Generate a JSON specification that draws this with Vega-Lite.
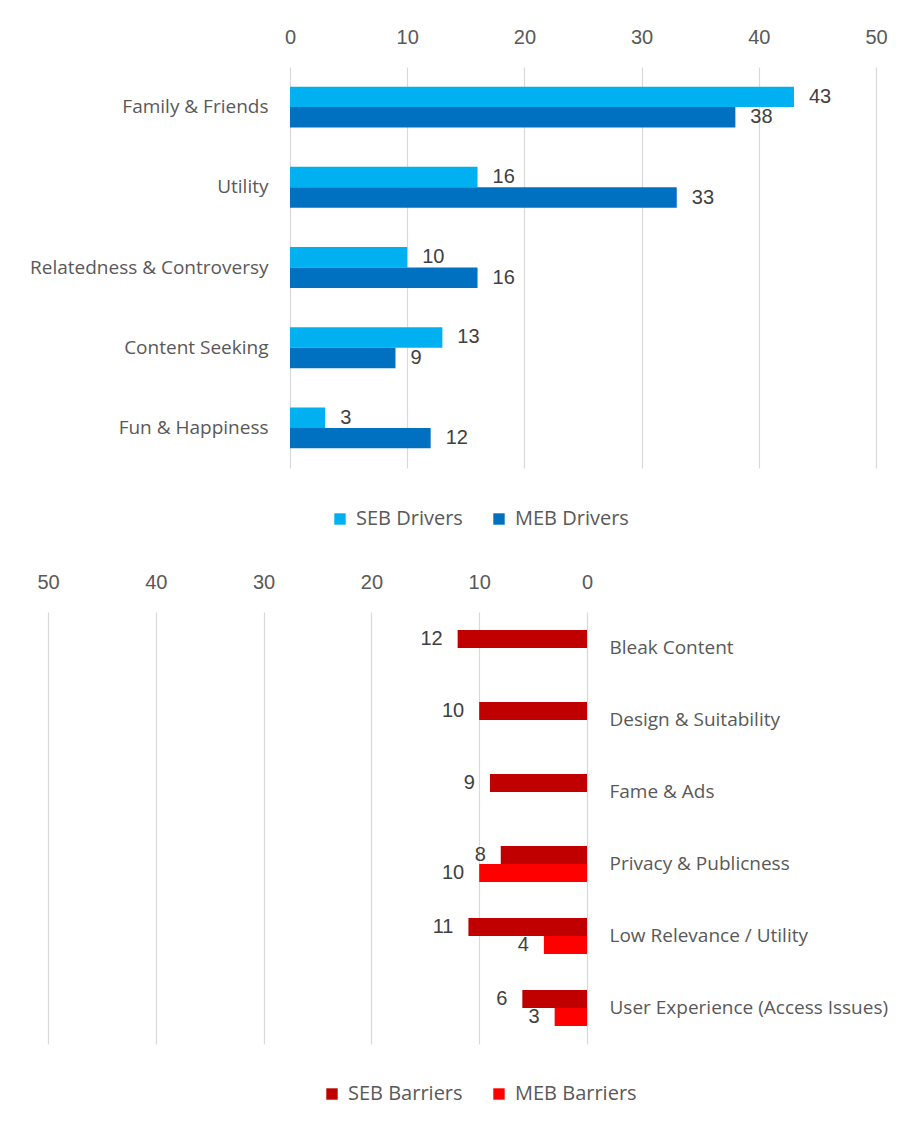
{
  "$schema": "https://vega.github.io/schema/vega-lite/v6.json",
  "background": "white",
  "padding": {"left": 29, "top": 27, "right": 0, "bottom": 20},
  "spacing": 43,
  "config": {
    "view": {"stroke": null},
    "axis": {
      "labelFont": "Liberation Sans",
      "labelFontSize": 20,
      "labelColor": "#595959",
      "labelLimit": 0,
      "labelFlush": false,
      "gridColor": "#D9D9D9",
      "gridWidth": 1.2,
      "domain": false,
      "ticks": false
    },
    "legend": {
      "labelFont": "Open Sans",
      "labelFontSize": 20,
      "labelColor": "#595959",
      "labelLimit": 0,
      "symbolType": "square",
      "symbolSize": 130,
      "symbolStrokeWidth": 0,
      "labelOffset": 6,
      "columnPadding": 26
    }
  },
  "vconcat": [
    {
      "width": 828,
      "height": 401,
      "data": {
        "values": [
          {"category": "Family & Friends", "series": "SEB Drivers", "value": 43},
          {"category": "Family & Friends", "series": "MEB Drivers", "value": 38},
          {"category": "Utility", "series": "SEB Drivers", "value": 16},
          {"category": "Utility", "series": "MEB Drivers", "value": 33},
          {"category": "Relatedness & Controversy", "series": "SEB Drivers", "value": 10},
          {"category": "Relatedness & Controversy", "series": "MEB Drivers", "value": 16},
          {"category": "Content Seeking", "series": "SEB Drivers", "value": 13},
          {"category": "Content Seeking", "series": "MEB Drivers", "value": 9},
          {"category": "Fun & Happiness", "series": "SEB Drivers", "value": 3},
          {"category": "Fun & Happiness", "series": "MEB Drivers", "value": 12}
        ]
      },
      "encoding": {
        "y": {
          "field": "category",
          "type": "nominal",
          "sort": ["Family & Friends", "Utility", "Relatedness & Controversy", "Content Seeking", "Fun & Happiness"],
          "scale": {"paddingInner": 0.49, "paddingOuter": 0.245},
          "axis": {"title": null, "orient": "left", "offset": -242, "labelFont": "Open Sans", "labelFontSize": 19, "labelPadding": 22, "grid": false, "maxExtent": 400}
        },
        "yOffset": {
          "field": "series",
          "type": "nominal",
          "scale": {"domain": ["SEB Drivers", "MEB Drivers"], "paddingInner": 0, "paddingOuter": 0}
        },
        "x": {
          "field": "value",
          "type": "quantitative",
          "scale": {"domain": [-20.65, 50], "nice": false, "zero": false},
          "axis": {"orient": "top", "title": null, "values": [0, 10, 20, 30, 40, 50], "labelPadding": 20, "grid": true}
        }
      },
      "layer": [
        {
          "mark": {"type": "bar"},
          "encoding": {
            "x2": {"datum": 0},
            "color": {
              "field": "series",
              "type": "nominal",
              "scale": {"domain": ["SEB Drivers", "MEB Drivers"], "range": ["#00B0F0", "#0070C0"]},
              "legend": {"title": null, "orient": "none", "direction": "horizontal", "legendX": 282, "legendY": 442}
            }
          }
        },
        {
          "mark": {"type": "text", "align": "left", "baseline": "middle", "dx": 15, "font": "Liberation Sans", "fontSize": 20, "color": "#404040"},
          "encoding": {"text": {"field": "value", "type": "quantitative"}}
        }
      ]
    },
    {
      "width": 539,
      "height": 432,
      "data": {
        "values": [
          {"category": "Bleak Content", "series": "SEB Barriers", "value": 12},
          {"category": "Design & Suitability", "series": "SEB Barriers", "value": 10},
          {"category": "Fame & Ads", "series": "SEB Barriers", "value": 9},
          {"category": "Privacy & Publicness", "series": "SEB Barriers", "value": 8},
          {"category": "Privacy & Publicness", "series": "MEB Barriers", "value": 10},
          {"category": "Low Relevance / Utility", "series": "SEB Barriers", "value": 11},
          {"category": "Low Relevance / Utility", "series": "MEB Barriers", "value": 4},
          {"category": "User Experience (Access Issues)", "series": "SEB Barriers", "value": 6},
          {"category": "User Experience (Access Issues)", "series": "MEB Barriers", "value": 3}
        ]
      },
      "encoding": {
        "y": {
          "field": "category",
          "type": "nominal",
          "sort": ["Bleak Content", "Design & Suitability", "Fame & Ads", "Privacy & Publicness", "Low Relevance / Utility", "User Experience (Access Issues)"],
          "scale": {"paddingInner": 0.5, "paddingOuter": 0.25},
          "axis": {"orient": "right", "title": null, "labelFont": "Open Sans", "labelFontSize": 19, "labelPadding": 22, "labelAlign": "left", "grid": false}
        },
        "yOffset": {
          "field": "series",
          "type": "nominal",
          "scale": {"domain": ["SEB Barriers", "MEB Barriers"], "paddingInner": 0, "paddingOuter": 0}
        },
        "x": {
          "field": "value",
          "type": "quantitative",
          "scale": {"domain": [0, 50], "nice": false, "reverse": true},
          "axis": {"orient": "top", "title": null, "values": [0, 10, 20, 30, 40, 50], "labelPadding": 20, "grid": true}
        }
      },
      "layer": [
        {
          "mark": {"type": "bar"},
          "encoding": {
            "color": {
              "field": "series",
              "type": "nominal",
              "scale": {"domain": ["SEB Barriers", "MEB Barriers"], "range": ["#C00000", "#FF0000"]},
              "legend": {"title": null, "orient": "none", "direction": "horizontal", "legendX": 274, "legendY": 472}
            }
          }
        },
        {
          "mark": {"type": "text", "align": "right", "baseline": "middle", "dx": -15, "font": "Liberation Sans", "fontSize": 20, "color": "#404040"},
          "encoding": {"text": {"field": "value", "type": "quantitative"}}
        }
      ]
    }
  ],
  "resolve": {"scale": {"color": "independent", "x": "independent", "y": "independent", "yOffset": "independent"}}
}
